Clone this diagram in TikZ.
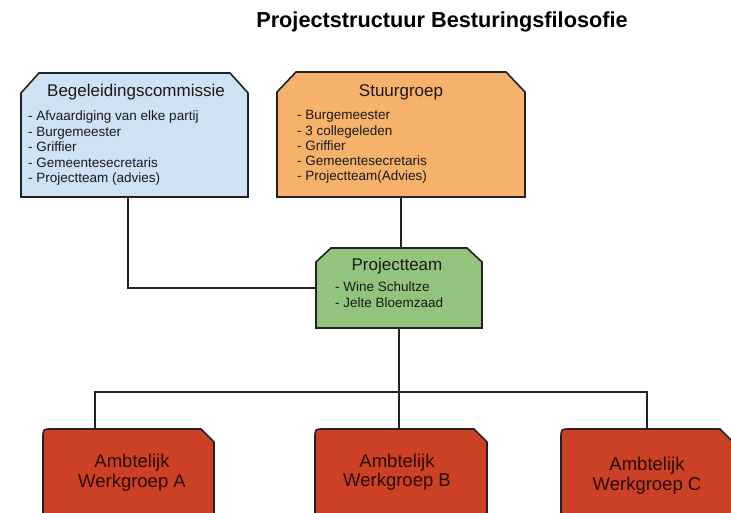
\documentclass[tikz,border=0pt]{standalone}
\usepackage{fontspec}
\setmainfont{Liberation Sans}
\usetikzlibrary{calc}
\definecolor{cBlue}{HTML}{CFE2F3}
\definecolor{cOrange}{HTML}{F6B26B}
\definecolor{cGreen}{HTML}{93C47D}
\definecolor{cRed}{HTML}{CC4125}
\definecolor{cLine}{HTML}{222222}
\definecolor{cInk}{HTML}{1A1A1A}
\definecolor{cRedInk}{HTML}{2B0B06}

% box with both upper corners cut off: node, fill, cut width, cut height
\newcommand\chamferbox[4]{%
  \path[frame, fill=#2] (#1.south west) -- ($(#1.north west)+(0,#4)$)
    -- ($(#1.north west)+(#3,0)$) -- ($(#1.north east)+(-#3,0)$)
    -- ($(#1.north east)+(0,#4)$) -- (#1.south east) -- cycle;}
% working-group box: rounded upper left, cut upper right
\newcommand\tabbox[1]{%
  \path[frame, fill=cRed] (#1.south west) -- ($(#1.north west)+(0,9)$)
    .. controls (#1.north west) .. ($(#1.north west)+(9,0)$)
    -- ($(#1.north east)+(-13,0)$) -- ($(#1.north east)+(0,13)$)
    -- (#1.south east) -- cycle;}

\begin{document}
\begin{tikzpicture}[x=1pt,y=-1pt,
  boxslot/.style 2 args={rectangle, inner sep=0pt, outer sep=0pt,
    minimum width=#1, minimum height=#2},
  frame/.style={draw=cLine, line width=1.6pt, line join=miter},
  conn/.style={draw=cLine, line width=1.5pt},
  title/.style={anchor=base, inner sep=0pt, text=black,
    font=\fontsize{21.7}{26}\selectfont\bfseries},
  head/.style={anchor=base, inner sep=0pt, text=cInk,
    font=\fontsize{17}{20}\selectfont},
  item/.style={anchor=base west, inner sep=0pt, text=cInk,
    font=\fontsize{13.5}{15}\selectfont},
  wg/.style={anchor=base, inner sep=0pt, text=cRedInk,
    font=\fontsize{18.5}{21}\selectfont}]

\useasboundingbox (0,0) rectangle (731,513);
\fill[white] (0,0) rectangle (731,513);
\clip (0,0) rectangle (731,513);

% box outlines (placeholders holding the geometry)
\node[boxslot={227}{124}] (beg)   at (134.5,135)   {};
\node[boxslot={248}{125}] (stuur) at (401,134.5)   {};
\node[boxslot={166}{80}]  (pt)    at (399,288)     {};
\node[boxslot={171}{101}] (wgA)   at (128.5,479.5) {};
\node[boxslot={172}{101}] (wgB)   at (401,479.5)   {};
\node[boxslot={172}{101}] (wgC)   at (647,479.5)   {};
\coordinate (bus) at (400,392);

% connectors
\draw[conn] ($(beg.south)+(-6.5,0)$) |- (pt.west);
\draw[conn] (stuur.south) -- (stuur.south |- pt.north);
\draw[conn] (pt.south) -- (pt.south |- wgB.north);
\draw[conn] ($(wgA.north west)+(52,0)$) |- (bus) -| (wgC.north);

% boxes
\chamferbox{beg}{cBlue}{18}{20}
\chamferbox{stuur}{cOrange}{19}{20}
\chamferbox{pt}{cGreen}{15}{14}
\tabbox{wgA}
\tabbox{wgB}
\tabbox{wgC}

% title
\node[title] (ttl) at (442,28) {Projectstructuur Besturingsfilosofie};

% Begeleidingscommissie
\node[head] (begHead) at (136,97) {Begeleidingscommissie};
\foreach [count=\i] \t in {Afvaardiging van elke partij, Burgemeester,
    Griffier, Gemeentesecretaris, Projectteam (advies)}
  \node[item] (begItem\i) at (28,{105.5+15.4*\i}) {- \t};

% Stuurgroep
\node[head] (stuurHead) at (401,97) {Stuurgroep};
\foreach [count=\i] \t in {Burgemeester, 3 collegeleden, Griffier,
    Gemeentesecretaris, Projectteam(Advies)}
  \node[item] (stuurItem\i) at (297,{104.5+15.3*\i}) {- \t};

% Projectteam
\node[head] (ptHead) at (397,270) {Projectteam};
\node[item] (ptItem1) at (335,291) {- Wine Schultze};
\node[item] (ptItem2) at (335,307) {- Jelte Bloemzaad};

% working groups
\node[wg] (wgAa) at (132,467) {Ambtelijk};
\node[wg] (wgAb) at (132,487) {Werkgroep A};
\node[wg] (wgBa) at (397,467) {Ambtelijk};
\node[wg] (wgBb) at (397,486) {Werkgroep B};
\node[wg] (wgCa) at (647,470) {Ambtelijk};
\node[wg] (wgCb) at (647,490) {Werkgroep C};
\end{tikzpicture}
\end{document}
